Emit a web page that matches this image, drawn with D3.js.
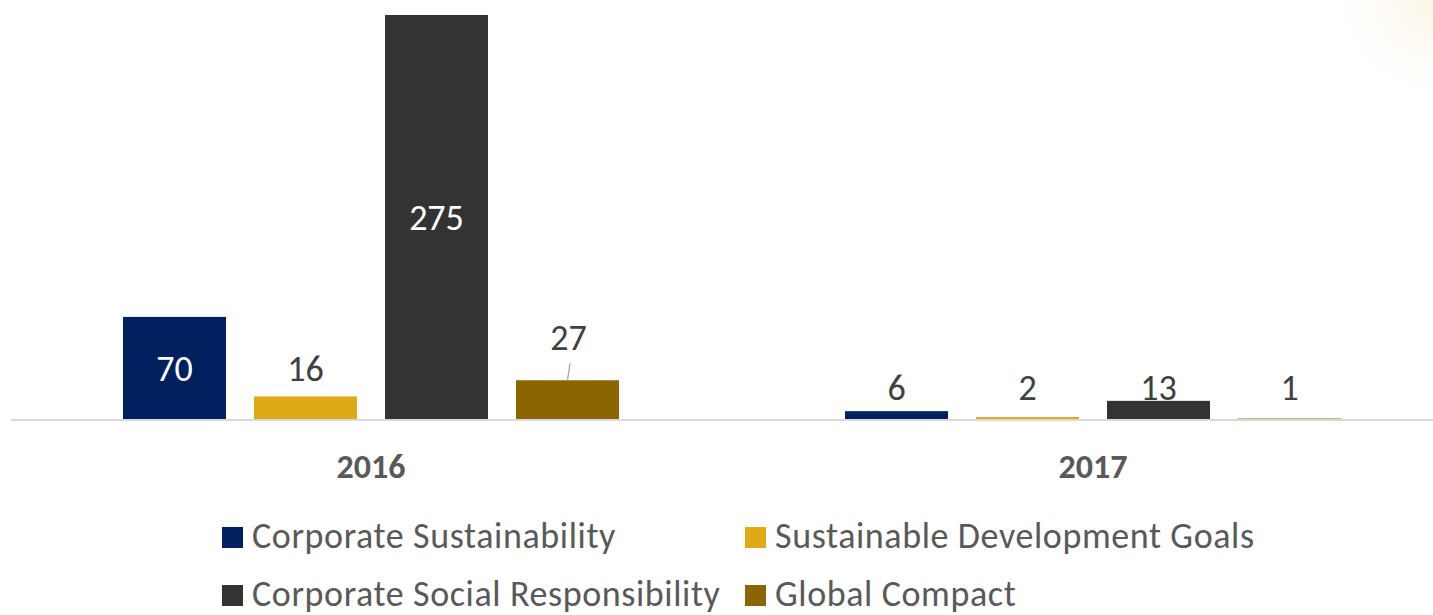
<!DOCTYPE html>
<html>
<head>
<meta charset="utf-8">
<script src="https://cdn.jsdelivr.net/npm/d3@7"></script>
<style>
  html, body { margin: 0; padding: 0; background: #ffffff; }
  svg { display: block; }
  text { font-family: Carlito, Lato, "Open Sans", sans-serif; }
</style>
</head>
<body>
<svg id="chart" width="1433" height="615"></svg>
<script>
// ---- data ----
const years = ["2016", "2017"];
const seriesNames = ["Corporate Sustainability", "Sustainable Development Goals", "Corporate Social Responsibility", "Global Compact"];
const corporateSustainability = [70, 6];
const sustainableDevelopmentGoals = [16, 2];
const corporateSocialResponsibility = [275, 13];
const globalCompact = [27, 1];
const seriesColors = ["#002060", "#dfaa15", "#333333", "#8a6500"];

const seriesValues = [corporateSustainability, sustainableDevelopmentGoals, corporateSocialResponsibility, globalCompact];

const W = 1433, H = 615;
const svg = d3.select("#chart");

// faint glow in the top-right corner
const defs = svg.append("defs");
const rg = defs.append("radialGradient").attr("id", "glow")
  .attr("gradientUnits", "userSpaceOnUse").attr("cx", 1440).attr("cy", -5).attr("r", 120);
rg.append("stop").attr("offset", "0%").attr("stop-color", "#fcf0d6").attr("stop-opacity", 0.7);
rg.append("stop").attr("offset", "50%").attr("stop-color", "#fdf6e8").attr("stop-opacity", 0.35);
rg.append("stop").attr("offset", "100%").attr("stop-color", "#ffffff").attr("stop-opacity", 0);
svg.append("rect").attr("x", 1250).attr("y", 0).attr("width", 183).attr("height", 150).attr("fill", "url(#glow)");

// ---- scales ----
const baseY = 420;
const x0 = d3.scaleBand().domain(years).range([10, 1454]).padding(0);
const x1 = d3.scaleBand().domain(seriesNames).range([113, 609]).paddingInner(28 / 131).paddingOuter(0);
const y = d3.scaleLinear().domain([0, 275]).range([baseY, 15]);
const color = d3.scaleOrdinal().domain(seriesNames).range(seriesColors);

const rows = [];
years.forEach((yr, i) => {
  seriesNames.forEach((s, j) => rows.push({ year: yr, series: s, value: seriesValues[j][i] }));
});

// ---- bars ----
const g = svg.append("g");
g.selectAll("rect.bar").data(rows).join("rect")
  .attr("class", "bar")
  .attr("x", d => x0(d.year) + x1(d.series))
  .attr("y", d => y(d.value))
  .attr("width", x1.bandwidth())
  .attr("height", d => baseY - y(d.value))
  .attr("fill", d => color(d.series));

// ---- axis line ----
svg.append("line").attr("x1", 11).attr("x2", W).attr("y1", baseY).attr("y2", baseY)
  .attr("stroke", "#d9d9d9").attr("stroke-width", 2.2);

// ---- category labels via axis ----
const xAxis = d3.axisBottom(x0).tickSize(0).tickPadding(0);
const axG = svg.append("g").attr("transform", `translate(0, ${baseY})`).call(xAxis);
axG.select(".domain").remove();
axG.selectAll("text")
  .attr("dy", null).attr("y", 58)
  .style("font-size", "34px").style("font-weight", "bold").style("fill", "#595959")
  .style("font-family", "Carlito, Lato, 'Open Sans', sans-serif");

// ---- value labels ----
const labelNudge = { "2016|Global Compact": 15 };
const labelFont = 36;
rows.forEach(d => {
  const cx = x0(d.year) + x1(d.series) + x1.bandwidth() / 2;
  const inside = d.value > 50;
  let by;
  if (inside) {
    by = (y(d.value) + baseY) / 2 + 12.5;
  } else if (d.value < 15) {
    by = baseY - 20;
  } else {
    by = y(d.value) - 15.5;
  }
  const nudge = labelNudge[d.year + "|" + d.series] || 0;
  if (nudge) {
    g.append("line")
      .attr("x1", cx).attr("y1", y(d.value))
      .attr("x2", cx + 2.5).attr("y2", y(d.value) - 17)
      .attr("stroke", "#a6a6a6").attr("stroke-width", 1.3);
  }
  g.append("text")
    .attr("x", cx + (nudge ? 1 : 0))
    .attr("y", by - nudge)
    .attr("text-anchor", "middle")
    .style("font-size", labelFont + "px")
    .style("fill", inside ? "#ffffff" : "#404040")
    .text(d.value);
});

// ---- legend ----
const legendCols = [222, 745];
const legendRows = [548, 606];
const leg = svg.append("g");
seriesNames.forEach((s, i) => {
  const lx = legendCols[i % 2], ly = legendRows[Math.floor(i / 2)];
  leg.append("rect").attr("x", lx).attr("y", ly - 21).attr("width", 21).attr("height", 21).attr("fill", color(s));
  leg.append("text").attr("x", lx + 30).attr("y", ly)
    .style("font-size", "36px").style("letter-spacing", "0.6px").style("fill", "#595959").text(s);
});
</script>
</body>
</html>
